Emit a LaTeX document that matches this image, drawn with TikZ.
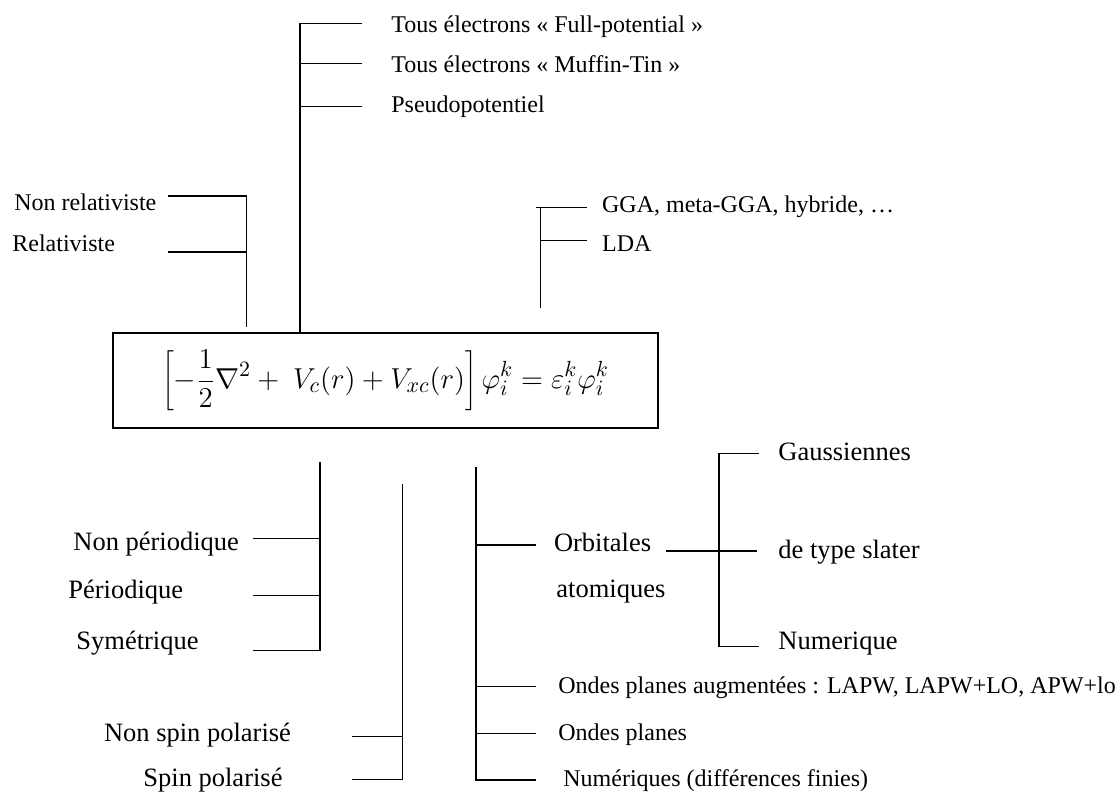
\documentclass[tikz,border=0pt]{standalone}
\usepackage{fontspec}
\setmainfont{Liberation Serif}
\begin{document}
\begin{tikzpicture}[x=0.5pt,y=-0.5pt,
  ln/.style={draw=black,line width=0.65pt},
  sm/.style={anchor=base west,inner sep=0pt,font=\fontsize{12}{14}\selectfont},
  lg/.style={anchor=base west,inner sep=0pt,font=\fontsize{13.25}{16}\selectfont},
  eqbox/.style={draw=black,line width=0.8pt,minimum width=272.5pt,minimum height=47.5pt,inner sep=0pt,font=\fontsize{15}{18}\selectfont}]
\useasboundingbox (0,0) rectangle (1120,793);
% equation box
\node[eqbox] (eq) at (385.5,380.5) {$\displaystyle \left[-\frac{1}{2}\nabla^{2}+\ V_{c}(r)+V_{xc}(r)\right]\varphi_{i}^{k}=\varepsilon_{i}^{k}\varphi_{i}^{k}$};
% ---- top tree: potentials
\node[sm] (t1) at (391,32) {Tous électrons « Full-potential »};
\node[sm] (t2) at (391,72) {Tous électrons « Muffin-Tin »};
\node[sm] (t3) at (391,112) {Pseudopotentiel};
\coordinate (pb) at (eq.north -| 300,0);
\coordinate (pt1) at (300,23.3);
\coordinate (pt2) at (300,63.3);
\coordinate (pt3) at (300,106.7);
\coordinate (pe1) at (362,23.3);
\coordinate (pe2) at (362,63.3);
\coordinate (pe3) at (362,106.7);
\draw[ln] (pb) -- (pt1) -- (pe1);
\draw[ln] (pt2) -- (pe2);
\draw[ln] (pt3) -- (pe3);
% ---- relativistic
\node[sm] (r1) at (14,210) {Non relativiste};
\node[sm] (r2) at (12,251.7) {Relativiste};
\coordinate (rb) at (246.7,326.7);
\coordinate (rt1) at (246.7,196);
\coordinate (rt2) at (246.7,252);
\coordinate (re1) at (168,196);
\coordinate (re2) at (168,252);
\draw[ln] (rb) -- (rt1) -- (re1);
\draw[ln] (rt2) -- (re2);
% ---- exchange-correlation
\node[sm] (x1) at (601.7,212) {GGA, meta-GGA, hybride, …};
\node[sm] (x2) at (601.7,251.7) {LDA};
\coordinate (xb) at (540.7,308.3);
\coordinate (xt1) at (540.7,207.7);
\coordinate (xs1) at (536,207.7);
\coordinate (xt2) at (540.7,240.7);
\coordinate (xe1) at (587,207.7);
\coordinate (xe2) at (587,240.7);
\draw[ln] (xb) -- (xt1);
\draw[ln] (xs1) -- (xe1);
\draw[ln] (xt2) -- (xe2);
% ---- periodicity
\node[lg] (b1) at (73,550.7) {Non périodique};
\node[lg] (b2) at (68,598) {Périodique};
\node[lg] (b3) at (76,649) {Symétrique};
\coordinate (bt) at (320,462);
\coordinate (bj1) at (320,538.3);
\coordinate (bj2) at (320,595.7);
\coordinate (bj3) at (320,650.7);
\coordinate (be1) at (252.7,538.3);
\coordinate (be2) at (252.7,595.7);
\coordinate (be3) at (252.7,650.7);
\draw[ln] (bt) -- (bj3) -- (be3);
\draw[ln] (bj1) -- (be1);
\draw[ln] (bj2) -- (be2);
% ---- spin
\node[lg] (s1) at (103.6,741) {Non spin polarisé};
\node[lg] (s2) at (143,786.7) {Spin polarisé};
\coordinate (st) at (402.5,484.3);
\coordinate (sj1) at (402.5,736.7);
\coordinate (sj2) at (402.5,779.3);
\coordinate (se1) at (351.7,736.7);
\coordinate (se2) at (351.7,779.3);
\draw[ln] (st) -- (sj2) -- (se2);
\draw[ln] (sj1) -- (se1);
% ---- basis sets
\node[lg] (o1) at (553.6,551.7) {Orbitales};
\node[lg] (o2) at (556,597) {atomiques};
\node[sm] (w1) at (558,693) {Ondes planes augmentées : LAPW, LAPW+LO, APW+lo};
\node[sm] (w2) at (558,740.7) {Ondes planes};
\node[sm] (w3) at (563,786) {Numériques (différences finies)};
\coordinate (wt) at (476,466.7);
\coordinate (wj0) at (476,545);
\coordinate (wj1) at (476,686.7);
\coordinate (wj2) at (476,733.3);
\coordinate (wj3) at (476,780);
\coordinate (we0) at (535.7,545);
\coordinate (we1) at (535.7,686.7);
\coordinate (we2) at (535.7,733.3);
\coordinate (we3) at (535.7,780);
\draw[ln] (wt) -- (wj3) -- (we3);
\draw[ln] (wj0) -- (we0);
\draw[ln] (wj1) -- (we1);
\draw[ln] (wj2) -- (we2);
% ---- atomic orbitals sub-tree
\node[lg] (g1) at (778,460) {Gaussiennes};
\node[lg] (g2) at (778,558) {de type slater};
\node[lg] (g3) at (778,649) {Numerique};
\coordinate (gt) at (719,453.3);
\coordinate (gb) at (719,646.7);
\coordinate (ge1) at (759,453.3);
\coordinate (ge3) at (759,646.7);
\coordinate (gs2) at (666,551);
\coordinate (ge2) at (757,551);
\draw[ln] (ge1) -- (gt) -- (gb) -- (ge3);
\draw[ln] (gs2) -- (ge2);
\end{tikzpicture}
\end{document}
